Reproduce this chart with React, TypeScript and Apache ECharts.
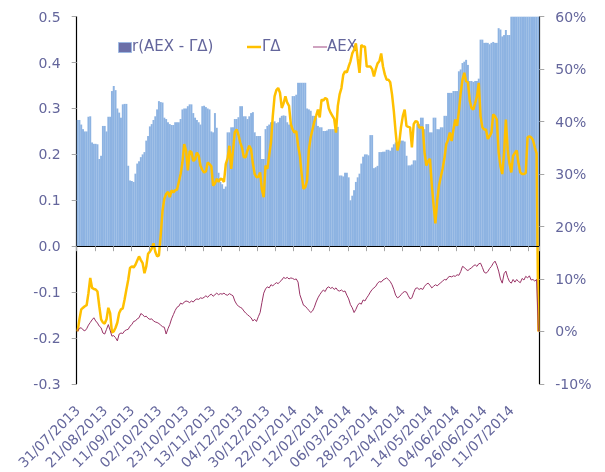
import React, { useEffect, useRef } from "react";
import * as echarts from "echarts";

// r(AEX - ΓΔ) per trading day (left axis)
const corrValues: number[] = [
  0.275, 0.275, 0.265, 0.255, 0.25, 0.25, 0.282, 0.283, 0.226, 0.223,
  0.223, 0.222, 0.19, 0.197, 0.262, 0.262, 0.25, 0.282, 0.282, 0.338,
  0.349, 0.34, 0.3, 0.291, 0.28, 0.309, 0.31, 0.31, 0.175, 0.143,
  0.142, 0.14, 0.158, 0.18, 0.185, 0.194, 0.2, 0.205, 0.23, 0.24,
  0.261, 0.266, 0.275, 0.283, 0.298, 0.316, 0.314, 0.313, 0.28, 0.277,
  0.27, 0.266, 0.264, 0.264, 0.27, 0.27, 0.27, 0.277, 0.298, 0.3,
  0.3, 0.305, 0.309, 0.309, 0.29, 0.28, 0.275, 0.27, 0.265, 0.305,
  0.306, 0.303, 0.3, 0.298, 0.25, 0.248, 0.29, 0.258, 0.16, 0.14,
  0.135, 0.125, 0.13, 0.248, 0.248, 0.259, 0.259, 0.277, 0.277, 0.281,
  0.305, 0.305, 0.283, 0.283, 0.277, 0.283, 0.29, 0.292, 0.248, 0.24,
  0.24, 0.24, 0.19, 0.19, 0.255, 0.262, 0.265, 0.27, 0.27, 0.272,
  0.268, 0.27, 0.28, 0.284, 0.285, 0.284, 0.27, 0.265, 0.268, 0.327,
  0.327, 0.33, 0.356, 0.356, 0.356, 0.356, 0.356, 0.3, 0.298, 0.295,
  0.284, 0.284, 0.28, 0.262, 0.259, 0.259, 0.251, 0.251, 0.252, 0.255,
  0.255, 0.255, 0.255, 0.257, 0.26, 0.154, 0.154, 0.152, 0.16, 0.16,
  0.15, 0.1, 0.11, 0.122, 0.14, 0.15, 0.158, 0.18, 0.195, 0.2,
  0.2, 0.198, 0.242, 0.242, 0.17, 0.172, 0.175, 0.205, 0.205, 0.206,
  0.206, 0.21, 0.21, 0.208, 0.215, 0.222, 0.226, 0.226, 0.228, 0.23,
  0.23, 0.228, 0.197, 0.176, 0.176, 0.178, 0.187, 0.187, 0.266, 0.266,
  0.28, 0.28, 0.255, 0.266, 0.266, 0.248, 0.248, 0.28, 0.28, 0.255,
  0.255, 0.259, 0.259, 0.284, 0.284, 0.334, 0.334, 0.334, 0.338, 0.338,
  0.338, 0.381, 0.385, 0.399, 0.402, 0.406, 0.395, 0.36, 0.36, 0.358,
  0.36, 0.36, 0.365, 0.45, 0.45, 0.443, 0.443, 0.443, 0.44, 0.443,
  0.445, 0.443, 0.443, 0.475, 0.472, 0.457, 0.46, 0.471, 0.46, 0.46,
  0.52, 0.55, 0.56, 0.55, 0.58, 0.6, 0.58, 0.57, 0.59, 0.6,
  0.62, 0.6, 0.61, 0.63, 0.6, 0.62,
];

// ΓΔ cumulative return, % (right axis)
const gammaDeltaValues: number[] = [
  0, 2.3, 4.2, 4.5, 4.8, 5.0, 7.3, 10.2, 8.3, 8.1,
  8.0, 7.6, 4.8, 2.3, 1.7, 1.5, 2.3, 4.5, 3.5, -0.2,
  0.0, 0.7, 1.7, 3.5, 4.2, 4.4, 6.1, 8.0, 9.8, 12.1,
  12.4, 12.2, 12.7, 13.5, 14.3, 13.6, 13.0, 11.1, 12.4, 14.8,
  15.2, 15.8, 16.8, 15.2, 14.3, 14.5, 18.4, 23.0, 25.3, 26.2,
  26.6, 25.6, 26.9, 26.5, 26.9, 27.0, 28.5, 30.0, 32.2, 35.7,
  34.5, 30.7, 34.4, 34.2, 32.5, 32.8, 34.1, 33.5, 31.6, 30.8,
  30.3, 30.5, 32.2, 31.9, 31.5, 27.8, 28.2, 29.1, 28.5, 29.1,
  29.0, 28.5, 31.9, 33.0, 35.4, 31.0, 34.5, 38.0, 38.5, 37.5,
  36.0, 35.0, 33.2, 33.2, 34.5, 35.4, 34.7, 32.0, 30.0, 29.4,
  29.5, 30.3, 27.0, 25.6, 31.6, 31.0, 33.5, 36.0, 41.0, 44.8,
  46.0, 46.4, 45.5, 42.6, 43.5, 44.8, 43.6, 43.0, 39.5, 38.5,
  37.9, 38.2, 35.5, 33.5, 30.0, 27.2, 27.5, 28.8, 34.7, 37.0,
  38.5, 40.0, 41.1, 42.3, 40.8, 44.2, 44.0, 44.5, 44.3, 42.5,
  41.7, 41.1, 40.5, 37.9, 43.0, 45.2, 46.4, 48.9, 49.6, 49.4,
  50.5, 51.5, 53.0, 53.7, 54.9, 52.0, 49.3, 54.6, 54.3, 54.3,
  50.5, 50.5, 50.5, 50.0, 48.6, 50.0, 51.1, 51.5, 53.0, 50.5,
  49.0, 48.0, 48.0, 47.5, 45.2, 42.0, 38.0, 34.5, 36.0, 39.0,
  41.1, 42.3, 39.2, 39.0, 38.9, 35.1, 39.5, 40.1, 40.0, 38.9,
  38.9, 38.9, 34.1, 31.6, 32.5, 32.9, 28.0, 24.1, 20.6, 25.0,
  27.8, 29.5, 31.0, 33.0, 35.7, 36.5, 37.9, 36.3, 38.5, 40.4,
  39.2, 42.0, 45.5, 48.0, 49.3, 47.7, 47.5, 44.0, 42.6, 42.3,
  43.5, 44.8, 47.4, 41.0, 38.9, 38.5, 38.5, 36.7, 37.2, 37.9,
  41.4, 41.0, 40.4, 34.1, 31.5, 30.0, 34.0, 40.4, 34.7, 32.0,
  30.3, 33.5, 34.0, 34.5, 32.0, 30.3, 30.0, 30.0, 30.2, 37.0,
  37.2, 37.0, 36.5, 35.1, 34.0, 0,
];

// AEX cumulative return, % (right axis)
const aexValues: number[] = [
  0, 0.6, 0.7, 0.3, 0.1, 0.5, 1.2, 1.7, 2.2, 2.6,
  2.0, 1.6, 1.0, 0.7, -0.3, -0.5, 0.4, 1.3, 0.2, -0.9,
  -0.8, -1.2, -1.8, -0.5, -0.3, -0.4, 0.1, 0.3, 0.4, 1.0,
  1.3, 1.9, 2.0, 2.4, 2.6, 3.4, 3.2, 2.8, 2.9, 2.5,
  2.3, 2.4, 2.0, 1.8, 1.7, 1.5, 1.2, 0.9, 0.8, -0.5,
  0.5, 1.3, 2.4, 3.2, 4.0, 4.6, 4.8, 5.4, 5.2, 5.6,
  5.8, 5.7, 5.5, 5.8, 5.6, 6.0, 6.2, 6.1, 6.4, 6.3,
  6.5, 6.8, 6.5, 6.9, 7.1, 6.7, 7.0, 7.3, 7.0, 7.2,
  7.1, 7.3, 7.0, 6.9, 7.2, 7.0, 6.8, 5.8, 5.2, 4.8,
  4.6, 4.4, 3.9, 3.5, 3.2, 2.9, 2.6, 2.0, 2.3, 1.9,
  2.8, 3.6, 5.5, 7.3, 8.1, 8.5, 8.3, 8.9, 8.7, 9.0,
  9.3, 9.1, 9.5, 9.8, 10.3, 10.1, 10.3, 10.0, 10.2, 10.1,
  9.9, 10.0, 9.4, 7.0, 6.0, 5.0, 4.8, 4.4, 4.0, 3.6,
  3.9, 4.6, 5.6, 6.4, 7.0, 7.5, 7.9, 7.6, 8.3, 8.5,
  8.2, 8.4, 8.0, 8.3, 7.8, 7.7, 7.9, 7.6, 7.7, 6.9,
  6.2, 5.1, 4.5, 3.6, 4.2, 5.0, 5.4, 5.2, 6.0, 5.8,
  6.4, 6.9, 7.5, 8.0, 8.3, 8.6, 9.2, 9.5, 9.4, 9.8,
  10.0, 10.2, 9.9, 9.5, 8.9, 8.0, 6.9, 6.4, 6.6, 7.0,
  7.4, 7.6, 7.5, 6.8, 6.2, 6.4, 7.4, 8.2, 8.3, 8.0,
  8.2, 8.0, 8.6, 9.0, 9.2, 8.8, 8.3, 8.6, 8.9, 8.7,
  9.0, 9.3, 9.6, 9.9, 9.8, 10.3, 10.5, 10.4, 10.6, 10.5,
  10.8, 10.7, 11.4, 12.4, 12.2, 11.8, 11.6, 11.9, 12.1, 12.5,
  12.7, 12.4, 12.9, 13.0, 12.2, 11.3, 11.1, 11.4, 12.0, 12.4,
  13.0, 13.4, 12.6, 11.5, 10.0, 9.2, 11.0, 11.5, 10.3, 9.5,
  9.2, 9.9, 9.4, 9.9, 9.5, 9.3, 10.1, 9.8, 10.5, 10.2,
  10.6, 9.8, 9.9, 9.6, 9.9, 0,
];

// Date labels shown every 15 trading days
const dateLabels: string[] = [
  "31/07/2013", "21/08/2013", "11/09/2013", "02/10/2013", "23/10/2013",
  "13/11/2013", "04/12/2013", "30/12/2013", "22/01/2014", "12/02/2014",
  "06/03/2014", "28/03/2014", "22/04/2014", "14/05/2014", "04/06/2014",
  "26/06/2014", "11/07/2014",
];

const leftTicks = { min: -0.3, max: 0.5, step: 0.1 };
const rightTicks = { min: -10, max: 60, step: 10 };

const TEXT = "#64669c";
const FONT = "DejaVu Sans";

export default function App() {
  const ref = useRef<HTMLDivElement>(null);
  useEffect(() => {
    if (!ref.current) return;
    const chart = echarts.init(ref.current, undefined, { renderer: "svg" });
    const cats = corrValues.map((_, i) => String(i));
    const option: any = {
      animation: false,
      textStyle: { fontFamily: FONT },
      grid: { left: 76.7, right: 65.7, top: 16.7, bottom: 85.3, containLabel: false },
      xAxis: [
        {
          type: "category",
          data: cats,
          position: "bottom",
          boundaryGap: true,
          axisLine: { show: true, onZero: true, onZeroAxisIndex: 0, lineStyle: { color: "#000", width: 1.2 } },
          axisTick: { show: true, interval: 9, length: 5, lineStyle: { color: "#a6a6a6" } },
          axisLabel: { show: false },
          splitLine: { show: false },
          z: 5,
        },
        {
          type: "category",
          data: cats,
          position: "bottom",
          boundaryGap: true,
          axisLine: { show: false, onZero: false },
          axisTick: { show: false },
          axisLabel: {
            show: true,
            interval: 14,
            rotate: 45,
            margin: 24,
            fontSize: 14,
            fontFamily: FONT,
            color: TEXT,
            formatter: (_v: string, idx: number) => (idx % 15 === 0 ? dateLabels[idx / 15] ?? "" : ""),
          },
          splitLine: { show: false },
        },
      ],
      yAxis: [
        {
          type: "value",
          position: "left",
          min: leftTicks.min,
          max: leftTicks.max,
          interval: leftTicks.step,
          axisLine: { show: true, onZero: false, lineStyle: { color: "#000", width: 1.2 } },
          axisTick: { show: true, length: 5, lineStyle: { color: "#a6a6a6" } },
          axisLabel: {
            margin: 16,
            fontSize: 14,
            fontFamily: FONT,
            color: TEXT,
            formatter: (v: number) => (Math.abs(v) < 1e-9 ? "0.0" : v.toFixed(1)),
          },
          splitLine: { show: false },
        },
        {
          type: "value",
          position: "right",
          min: rightTicks.min,
          max: rightTicks.max,
          interval: rightTicks.step,
          axisLine: { show: true, onZero: false, lineStyle: { color: "#000", width: 1.2 } },
          axisTick: { show: true, length: 5, lineStyle: { color: "#a6a6a6" } },
          axisLabel: {
            margin: 16,
            fontSize: 14,
            fontFamily: FONT,
            color: TEXT,
            formatter: (v: number) => `${Math.round(v)}%`,
          },
          splitLine: { show: false },
        },
      ],
      series: [
        {
          name: "r(AEX - ΓΔ)",
          type: "bar",
          xAxisIndex: 0,
          yAxisIndex: 0,
          data: corrValues,
          barWidth: "108%",
          barGap: "-100%",
          clip: true,
          itemStyle: { color: "#8db3e2" },
          z: 1,
        },
        {
          name: "ΓΔ",
          type: "line",
          xAxisIndex: 0,
          yAxisIndex: 1,
          data: gammaDeltaValues,
          showSymbol: false,
          symbol: "none",
          lineStyle: { color: "#ffc000", width: 2.5 },
          z: 3,
        },
        {
          name: "AEX",
          type: "line",
          xAxisIndex: 0,
          yAxisIndex: 1,
          data: aexValues,
          showSymbol: false,
          symbol: "none",
          lineStyle: { color: "#993366", width: 1 },
          z: 4,
        },
      ],
      graphic: [
        { type: "rect", left: 118, top: 42, shape: { width: 13, height: 10 }, style: { fill: "#6b6fa8", stroke: "#9db9e3", lineWidth: 1 } },
        { type: "text", left: 132, top: 38, style: { text: "r(AEX - ΓΔ)", fill: TEXT, font: `15px "${FONT}"` } },
        { type: "line", shape: { x1: 247, y1: 47, x2: 261, y2: 47 }, style: { stroke: "#ffc000", lineWidth: 2.5 } },
        { type: "text", left: 262, top: 38, style: { text: "ΓΔ", fill: TEXT, font: `15px "${FONT}"` } },
        { type: "line", shape: { x1: 313, y1: 47, x2: 327, y2: 47 }, style: { stroke: "#cfa3c0", lineWidth: 2 } },
        { type: "text", left: 327, top: 38, style: { text: "AEX", fill: TEXT, font: `15px "${FONT}"` } },
      ],
    };
    chart.setOption(option);
    return () => chart.dispose();
  }, []);
  return <div ref={ref} style={{ position: "fixed", left: 0, top: 0, width: 605, height: 472 }} />;
}
